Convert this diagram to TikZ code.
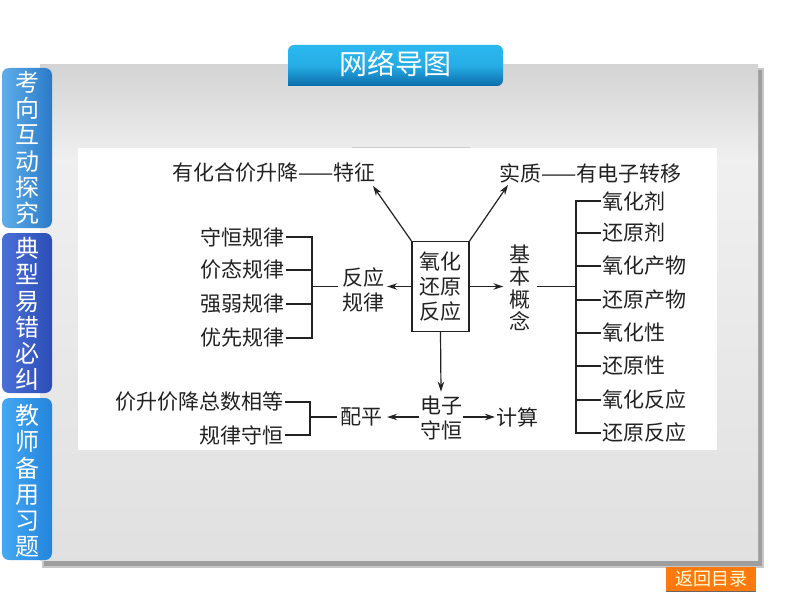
\documentclass[tikz,border=0pt]{standalone}
\usepackage{fontspec}
\newfontfamily\cjk{Noto Sans CJK SC}
\usetikzlibrary{arrows.meta,calc}
\definecolor{ink}{HTML}{222222}
\definecolor{tabAl}{HTML}{5FAEEA}\definecolor{tabAr}{HTML}{2A7AC9}
\definecolor{tabBl}{HTML}{4A70D8}\definecolor{tabBr}{HTML}{2C4DB6}
\definecolor{tabCl}{HTML}{45A8F2}\definecolor{tabCr}{HTML}{2385DD}
\definecolor{ttop}{HTML}{2BB8F0}\definecolor{tbot}{HTML}{0B6CAA}
\definecolor{orng}{HTML}{FF7A0E}
\begin{document}
\begin{tikzpicture}[x=1pt,y=-1pt,
  txt/.style={font=\cjk\fontsize{21}{25}\selectfont, inner sep=1pt, text=ink},
  ln/.style={line width=1.2pt, draw=ink},
  arr/.style={ln, -{Stealth[length=10pt,width=6.5pt]}},
  tabtxt/.style={font=\cjk\fontsize{24}{26.3}\selectfont, text=white, align=center, inner sep=0pt},
  sidetab/.style={rounded corners=7pt}]
\useasboundingbox (0,0) rectangle (794,596);
\fill[white] (0,0) rectangle (794,596);
% panel shadow
\fill[black!22] (42,68) rectangle (764,568);
\fill[black!38] (44,70) rectangle (762,566);
% panel
\shade[top color=black!17, bottom color=black!6] (40,65) rectangle (758,160);
\shade[top color=black!6, bottom color=black!12] (40,160) rectangle (758,560);
% white working area
\fill[white] (78,148) rectangle (717,450);
\draw[black!20, line width=1pt] (352,148) -- (470,148);
% side tabs
\shade[sidetab, left color=tabAl, right color=tabAr] (52,68) -- (2,68) -- (2,228) -- (52,228) -- cycle;
\shade[sidetab, left color=tabBl, right color=tabBr] (52,233) -- (2,233) -- (2,393) -- (52,393) -- cycle;
\shade[sidetab, left color=tabCl, right color=tabCr] (52,398) -- (2,398) -- (2,560) -- (52,560) -- cycle;
\node[tabtxt] (t1) at (28,148) {考\\向\\互\\动\\探\\究};
\node[tabtxt] (t2) at (28,314) {典\\型\\易\\错\\必\\纠};
\node[tabtxt] (t3) at (28,481) {教\\师\\备\\用\\习\\题};
% title tab
\shade[top color=ttop, bottom color=tbot, middle color=ttop!85!tbot, rounded corners=6pt] (288,86) -- (288,45) -- (503,45) -- (503,86) [sharp corners] -- cycle;
\node[font=\cjk\fontsize{28}{30}\selectfont, text=white, inner sep=0pt] (title) at (395.5,64) {网络导图};
% return button
\fill[orng] (666,567) rectangle (756,591);
\draw[black!60, line width=1pt] (666,591) -- (756,591);
\node[font=\cjk\fontsize{18}{20}\selectfont, text=yellow!15, inner sep=0pt] (ret) at (711,579) {返回目录};

% ---------- diagram ----------
\node[txt, draw=ink, line width=1.2pt, align=center, minimum width=57pt, minimum height=90pt] (box) at (440.5,286.5) {氧化\\还原\\反应};
\node[txt, anchor=east] (tz) at (377,173) {有化合价升降——特征};
\node[txt, anchor=west] (sz) at (498,173) {实质——有电子转移};
\draw[arr] (box.north west) -- ($(tz.south east)+(-4,2)$);
\draw[arr] (box.north east) -- ($(sz.south west)+(10,1)$);

% left: reaction rules
\node[txt, align=center] (fy) at (363,289.5) {反应\\规律};
\draw[arr] (box.west) -- ($(box.west -| fy.east)+(2,0)$);
\coordinate (bl) at (312,286.5);
\node[txt, anchor=east] (l1) at (286,237) {守恒规律};
\node[txt, anchor=east] (l2) at (286,270) {价态规律};
\node[txt, anchor=east] (l3) at (286,304) {强弱规律};
\node[txt, anchor=east] (l4) at (286,338) {优先规律};
\draw[ln] ($(box.west -| fy.west)+(-3,0)$) -- (bl);
\draw[ln] (l1.east) -- (bl |- l1.east) -- (bl |- l4.east) -- (l4.east);
\draw[ln] (l2.east) -- (bl |- l2.east);
\draw[ln] (l3.east) -- (bl |- l3.east);

% right: basic concepts
\node[txt, align=center, font=\cjk\fontsize{21}{22.5}\selectfont, inner xsep=6pt] (jb) at (520,288) {基\\本\\概\\念};
\draw[arr] (box.east) -- (box.east -| jb.west);
\coordinate (br) at (576,286.5);
\draw[ln] (box.east -| jb.east) -- (br);
\node[txt, anchor=west] (r1) at (601,201) {氧化剂};
\node[txt, anchor=west] (r2) at (601,233) {还原剂};
\node[txt, anchor=west] (r3) at (601,266) {氧化产物};
\node[txt, anchor=west] (r4) at (601,300) {还原产物};
\node[txt, anchor=west] (r5) at (601,333) {氧化性};
\node[txt, anchor=west] (r6) at (601,366) {还原性};
\node[txt, anchor=west] (r7) at (601,400) {氧化反应};
\node[txt, anchor=west] (r8) at (601,433) {还原反应};
\draw[ln] (r1.west) -- (br |- r1.west) -- (br |- r8.west) -- (r8.west);
\foreach \n in {r2,r3,r4,r5,r6,r7} \draw[ln] (\n.west) -- (br |- \n.west);

% bottom: electron conservation
\node[txt, align=center] (dz) at (441,418) {电子\\守恒};
\draw[arr] (box.south) -- ($(dz.north)+(0,-3)$);
\node[txt, anchor=west] (js) at (495,417) {计算};
\draw[arr] (dz.east |- js.west) -- (js.west);
\node[txt] (pp) at (361,417) {配平};
\draw[arr] (dz.west |- pp.east) -- ($(pp.east)+(4,0)$);
\coordinate (bb) at (310,417);
\node[txt, anchor=east] (b1) at (285,402) {价升价降总数相等};
\node[txt, anchor=east] (b2) at (285,435) {规律守恒};
\draw[ln] ($(pp.west)+(-2,0)$) -- (bb);
\draw[ln] (b1.east) -- (bb |- b1.east) -- (bb |- b2.east) -- (b2.east);
\end{tikzpicture}
\end{document}
